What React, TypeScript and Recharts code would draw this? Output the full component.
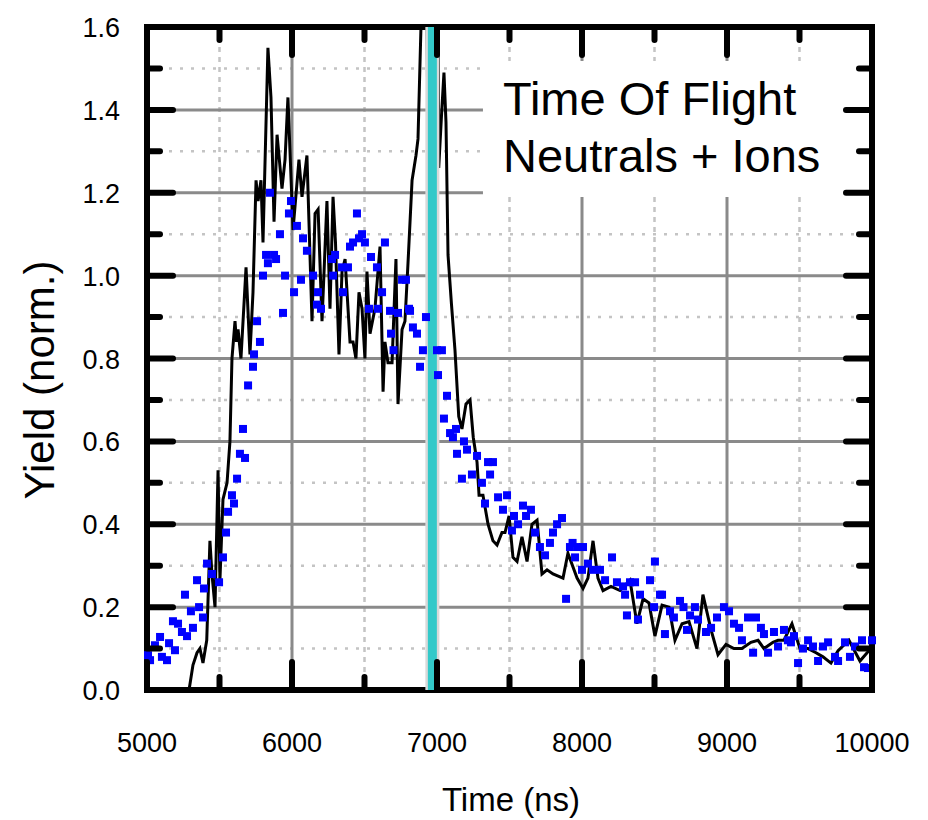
import React from 'react';
import {
  ComposedChart,
  Line,
  Scatter,
  XAxis,
  YAxis,
  CartesianGrid,
  ReferenceLine,
  ReferenceArea,
  Label,
} from 'recharts';

// black trace (simulation), time in ns
const lineTimes = [
  5290, 5317, 5345, 5365, 5386, 5412, 5434, 5448, 5469, 5490, 5503, 5524, 5552, 5572, 5586,
  5607, 5617, 5628, 5648, 5683, 5710, 5731, 5752, 5766, 5786, 5800, 5834, 5855, 5876, 5897,
  5931, 5952, 5972, 6007, 6048, 6069, 6103, 6138, 6159, 6180, 6207, 6241, 6262, 6283, 6300,
  6324, 6345, 6366, 6400, 6421, 6441, 6462, 6483, 6503, 6517, 6538, 6572, 6607, 6628, 6641,
  6662, 6690, 6717, 6731, 6759, 6779, 6800, 6828, 6855, 6869, 6897, 6925, 6940, 6970, 7005,
  7012, 7030, 7048, 7062, 7076, 7100, 7124, 7150, 7172, 7200, 7228, 7250, 7276, 7290, 7317,
  7352, 7386, 7414, 7448, 7469, 7497, 7524, 7552, 7586, 7621, 7655, 7690, 7724, 7759, 7800,
  7869, 7903, 7966, 8007, 8041, 8076, 8110, 8145, 8200, 8262, 8331, 8379, 8421, 8462, 8503,
  8552, 8600, 8641, 8690, 8738, 8793, 8834, 8890, 8938, 8993, 9048, 9103, 9165, 9214, 9255,
  9317, 9352, 9393, 9448, 9503, 9559, 9614, 9662, 9717, 9766, 9841, 9917, 9966, 10000,
];
const lineYields = [
  0.0, 0.06, 0.09, 0.1, 0.065, 0.12, 0.36, 0.28, 0.2, 0.53, 0.265, 0.46, 0.5, 0.6, 0.8,
  0.89, 0.84, 0.87, 0.8, 1.02, 0.81, 0.96, 1.23, 1.18, 1.23, 1.08, 1.55, 1.43, 1.13, 1.34,
  1.21, 1.28, 1.43, 1.11, 1.28, 1.19, 1.29, 0.89, 1.15, 1.16, 0.89, 1.18, 0.92, 1.19, 1.08,
  0.81, 1.01, 1.04, 0.84, 0.84, 0.8, 0.96, 0.92, 0.8, 1.01, 0.86, 0.92, 1.07, 0.72, 0.84,
  0.79, 0.79, 1.04, 0.69, 0.87, 0.89, 1.03, 1.23, 1.29, 1.33, 1.7, 1.85, 1.25, 1.9, 1.85,
  1.26, 1.38, 1.49, 1.37, 1.05, 0.93, 0.82, 0.66, 0.63, 0.69, 0.7, 0.61, 0.55, 0.47, 0.47,
  0.4, 0.36, 0.35, 0.38, 0.38, 0.42, 0.32, 0.31, 0.37, 0.31, 0.4, 0.41, 0.28, 0.29, 0.28,
  0.27, 0.33, 0.27, 0.245, 0.27, 0.36, 0.27, 0.24, 0.25, 0.24, 0.265, 0.16, 0.22, 0.21, 0.13,
  0.205, 0.2, 0.12, 0.16, 0.165, 0.1, 0.23, 0.145, 0.085, 0.11, 0.1, 0.1, 0.115, 0.12, 0.1,
  0.115, 0.12, 0.12, 0.16, 0.1, 0.1, 0.09, 0.08, 0.065, 0.095, 0.12, 0.07, 0.09, 0.1,
];

// blue squares (measurement)
const dotTimes = [
  5007, 5021, 5055, 5090, 5103, 5138, 5152, 5179, 5193, 5214, 5241, 5262, 5276, 5303, 5317,
  5345, 5359, 5386, 5393, 5414, 5448, 5497, 5524, 5545, 5559, 5586, 5600, 5621, 5641, 5662,
  5676, 5697, 5731, 5738, 5759, 5779, 5800, 5821, 5834, 5848, 5876, 5890, 5917, 5938, 5952,
  5979, 5993, 6014, 6034, 6062, 6076, 6103, 6145, 6172, 6179, 6200, 6276, 6283, 6297, 6345,
  6352, 6386, 6400, 6421, 6448, 6462, 6483, 6503, 6531, 6545, 6586, 6593, 6621, 6641, 6676,
  6683, 6700, 6731, 6759, 6786, 6807, 6814, 6834, 6862, 6883, 6903, 6924, 7000, 7007, 7034,
  7048, 7069, 7090, 7110, 7131, 7138, 7172, 7186, 7207, 7241, 7276, 7310, 7331, 7352, 7366,
  7386, 7421, 7455, 7483, 7517, 7531, 7559, 7593, 7614, 7648, 7676, 7710, 7745, 7779, 7800,
  7828, 7862, 7890, 7917, 7935, 7952, 7972, 8000, 8007, 8041, 8076, 8124, 8159, 8207, 8241,
  8283, 8297, 8310, 8331, 8366, 8386, 8400, 8469, 8497, 8503, 8538, 8552, 8572, 8607, 8634,
  8676, 8700, 8724, 8745, 8779, 8800, 8855, 8890, 8931, 8979, 9014, 9048, 9083, 9103, 9145,
  9180, 9200, 9234, 9255, 9283, 9324, 9352, 9393, 9420, 9441, 9462, 9490, 9524, 9559, 9593,
  9628, 9662, 9697, 9745, 9766, 9814, 9848, 9883, 9931, 9945, 9972, 10000,
];
const dotYields = [
  0.084, 0.072, 0.108, 0.128, 0.08, 0.072, 0.113, 0.166, 0.096, 0.16, 0.14, 0.23, 0.13, 0.19, 0.15,
  0.265, 0.2, 0.175, 0.245, 0.305, 0.28, 0.26, 0.32, 0.38, 0.43, 0.47, 0.45, 0.51, 0.57, 0.63,
  0.56, 0.735, 0.78, 0.81, 0.89, 0.84, 1.0, 1.05, 1.03, 1.2, 1.05, 1.04, 1.1, 0.91, 1.0,
  1.15, 1.18, 0.96, 1.12, 0.99, 1.09, 1.06, 1.0, 0.93, 0.96, 0.92, 1.04, 1.0, 1.05, 1.02,
  0.96, 1.02, 1.07, 1.08, 1.15, 1.09, 1.1, 1.08, 0.92, 1.045, 1.02, 0.92, 0.96, 1.08, 0.915,
  0.86, 0.82, 0.91, 0.99, 0.99, 0.92, 0.915, 0.875, 0.86, 0.78, 0.82, 0.9, 0.82, 0.76, 0.82,
  0.655, 0.71, 0.62, 0.61, 0.63, 0.57, 0.51, 0.6, 0.58, 0.52, 0.565, 0.5, 0.45, 0.55, 0.52,
  0.55, 0.465, 0.435, 0.47, 0.385, 0.42, 0.4, 0.445, 0.42, 0.435, 0.38, 0.345, 0.325, 0.355, 0.38,
  0.4, 0.415, 0.22, 0.345, 0.355, 0.32, 0.345, 0.29, 0.345, 0.305, 0.29, 0.29, 0.265, 0.32, 0.26,
  0.25, 0.23, 0.18, 0.26, 0.26, 0.17, 0.23, 0.265, 0.2, 0.31, 0.23, 0.23, 0.135, 0.19, 0.175,
  0.215, 0.2, 0.145, 0.18, 0.2, 0.17, 0.14, 0.15, 0.175, 0.2, 0.19, 0.16, 0.15, 0.12, 0.175,
  0.09, 0.175, 0.15, 0.135, 0.09, 0.14, 0.105, 0.145, 0.12, 0.115, 0.13, 0.065, 0.1, 0.12, 0.105,
  0.07, 0.105, 0.115, 0.08, 0.07, 0.115, 0.08, 0.105, 0.12, 0.055, 0.053, 0.12,
];

const xTicks = [5000, 5500, 6000, 6500, 7000, 7500, 8000, 8500, 9000, 9500, 10000];
const yTicks = [0, 0.1, 0.2, 0.3, 0.4, 0.5, 0.6, 0.7, 0.8, 0.9, 1.0, 1.1, 1.2, 1.3, 1.4, 1.5, 1.6];
const xMajorGrid = [6000, 7000, 8000, 9000];
const xMinorGrid = [5500, 6500, 7500, 8500, 9500];
const yMajorGrid = [0.2, 0.4, 0.6, 0.8, 1.0, 1.2, 1.4];
const yMinorGrid = [0.1, 0.3, 0.5, 0.7, 0.9, 1.1, 1.3, 1.5];

const markerTime = 6968;
const boxTimes = [7317, 9883];
const boxYields = [1.19, 1.518];
const boxLines = ['Time Of Flight', 'Neutrals + Ions'];

const lineData = lineTimes.map((t, i) => ({ t, v: lineYields[i] }));
const dotData = dotTimes.map((t, i) => ({ t, v: dotYields[i] }));

const FONT = '"Liberation Sans", Arial, sans-serif';
const PLOT_W = 725;
const PLOT_H = 663;
const TICK_W = 6;

const XTick = (props: any) => {
  const { x, y, payload } = props;
  const major = payload.value % 1000 === 0;
  const len = major ? 28 : 13;
  return (
    <g>
      <line x1={x} x2={x} y1={y} y2={y - len} stroke="#000" strokeWidth={TICK_W} strokeLinecap="round" />
      <line x1={x} x2={x} y1={y - PLOT_H} y2={y - PLOT_H + len} stroke="#000" strokeWidth={TICK_W} strokeLinecap="round" />
      {major && (
        <text x={x} y={y + 62} textAnchor="middle" fontSize={27} fontFamily={FONT} fill="#000">
          {payload.value}
        </text>
      )}
    </g>
  );
};

const YTick = (props: any) => {
  const { x, y, payload } = props;
  const major = Math.round(payload.value * 10) % 2 === 0;
  const len = major ? 26 : 13;
  return (
    <g>
      <line x1={x} x2={x + len} y1={y} y2={y} stroke="#000" strokeWidth={TICK_W} strokeLinecap="round" />
      <line x1={x + PLOT_W} x2={x + PLOT_W - len} y1={y} y2={y} stroke="#000" strokeWidth={TICK_W} strokeLinecap="round" />
      {major && (
        <text x={x - 27} y={y + 10} textAnchor="end" fontSize={27} fontFamily={FONT} fill="#000">
          {payload.value.toFixed(1)}
        </text>
      )}
    </g>
  );
};

const Square = (props: any) => {
  const { cx, cy } = props;
  if (cx == null || cy == null) return null;
  return <rect x={cx - 4} y={cy - 4} width={8} height={8} fill="#0000ff" />;
};

const BoxText = (props: any) => {
  const vb = props.viewBox || {};
  return (
    <g>
      {boxLines.map((s, i) => (
        <text key={s} x={vb.x + 20} y={vb.y + 54 + i * 57} fontSize={47} fontFamily={FONT} fill="#000">
          {s}
        </text>
      ))}
    </g>
  );
};

export default function App() {
  return (
    <div style={{ width: 920, height: 812, background: '#fff' }}>
      <ComposedChart width={920} height={812} margin={{ top: 19, right: 56, bottom: 0, left: 0 }}>
        <CartesianGrid horizontal={false} verticalValues={xMinorGrid} stroke="#c4c4c4" strokeWidth={2.5} strokeDasharray="5 5" />
        <CartesianGrid vertical={false} horizontalValues={yMinorGrid} stroke="#c4c4c4" strokeWidth={2.5} strokeDasharray="3 8" />
        <CartesianGrid horizontalValues={yMajorGrid} verticalValues={xMajorGrid} stroke="#8a8a8a" strokeWidth={3} />
        <XAxis
          dataKey="t"
          type="number"
          domain={[5000, 10000]}
          ticks={xTicks}
          interval={0}
          height={130}
          axisLine={false}
          tickLine={false}
          tickSize={0}
          tickMargin={0}
          tick={(p: any) => <XTick {...p} />}
        >
          <Label
            content={() => (
              <text x={503} y={803} textAnchor="middle" fontSize={33} fontFamily={FONT} fill="#000">
                Time (ns)
              </text>
            )}
          />
        </XAxis>
        <YAxis
          dataKey="v"
          type="number"
          domain={[0, 1.6]}
          allowDataOverflow
          ticks={yTicks}
          interval={0}
          width={139}
          axisLine={false}
          tickLine={false}
          tickSize={0}
          tickMargin={0}
          tick={(p: any) => <YTick {...p} />}
        >
          <Label
            content={() => (
              <text
                x={46}
                y={372}
                transform="rotate(-90 46 372)"
                textAnchor="middle"
                fontSize={42}
                fontFamily={FONT}
                fill="#000"
              >
                Yield (norm.)
              </text>
            )}
          />
        </YAxis>
        <ReferenceArea
          x1={boxTimes[0]}
          x2={boxTimes[1]}
          y1={boxYields[0]}
          y2={boxYields[1]}
          fill="#fff"
          fillOpacity={1}
          stroke="none"
          label={(p: any) => <BoxText {...p} />}
        />
        <Line
          data={lineData}
          dataKey="v"
          type="linear"
          stroke="#000"
          strokeWidth={3}
          dot={false}
          activeDot={false}
          isAnimationActive={false}
        />
        <Scatter data={dotData} dataKey="v" fill="#0000ff" shape={(p: any) => <Square {...p} />} isAnimationActive={false} />
        <ReferenceLine x={markerTime} stroke="#d9d9d9" strokeWidth={14} />
        <ReferenceLine x={markerTime} stroke="#33c9c9" strokeWidth={9} />
        <ReferenceArea x1={5000} x2={10000} y1={0} y2={1.6} fill="none" stroke="#000" strokeWidth={6} />
      </ComposedChart>
    </div>
  );
}
